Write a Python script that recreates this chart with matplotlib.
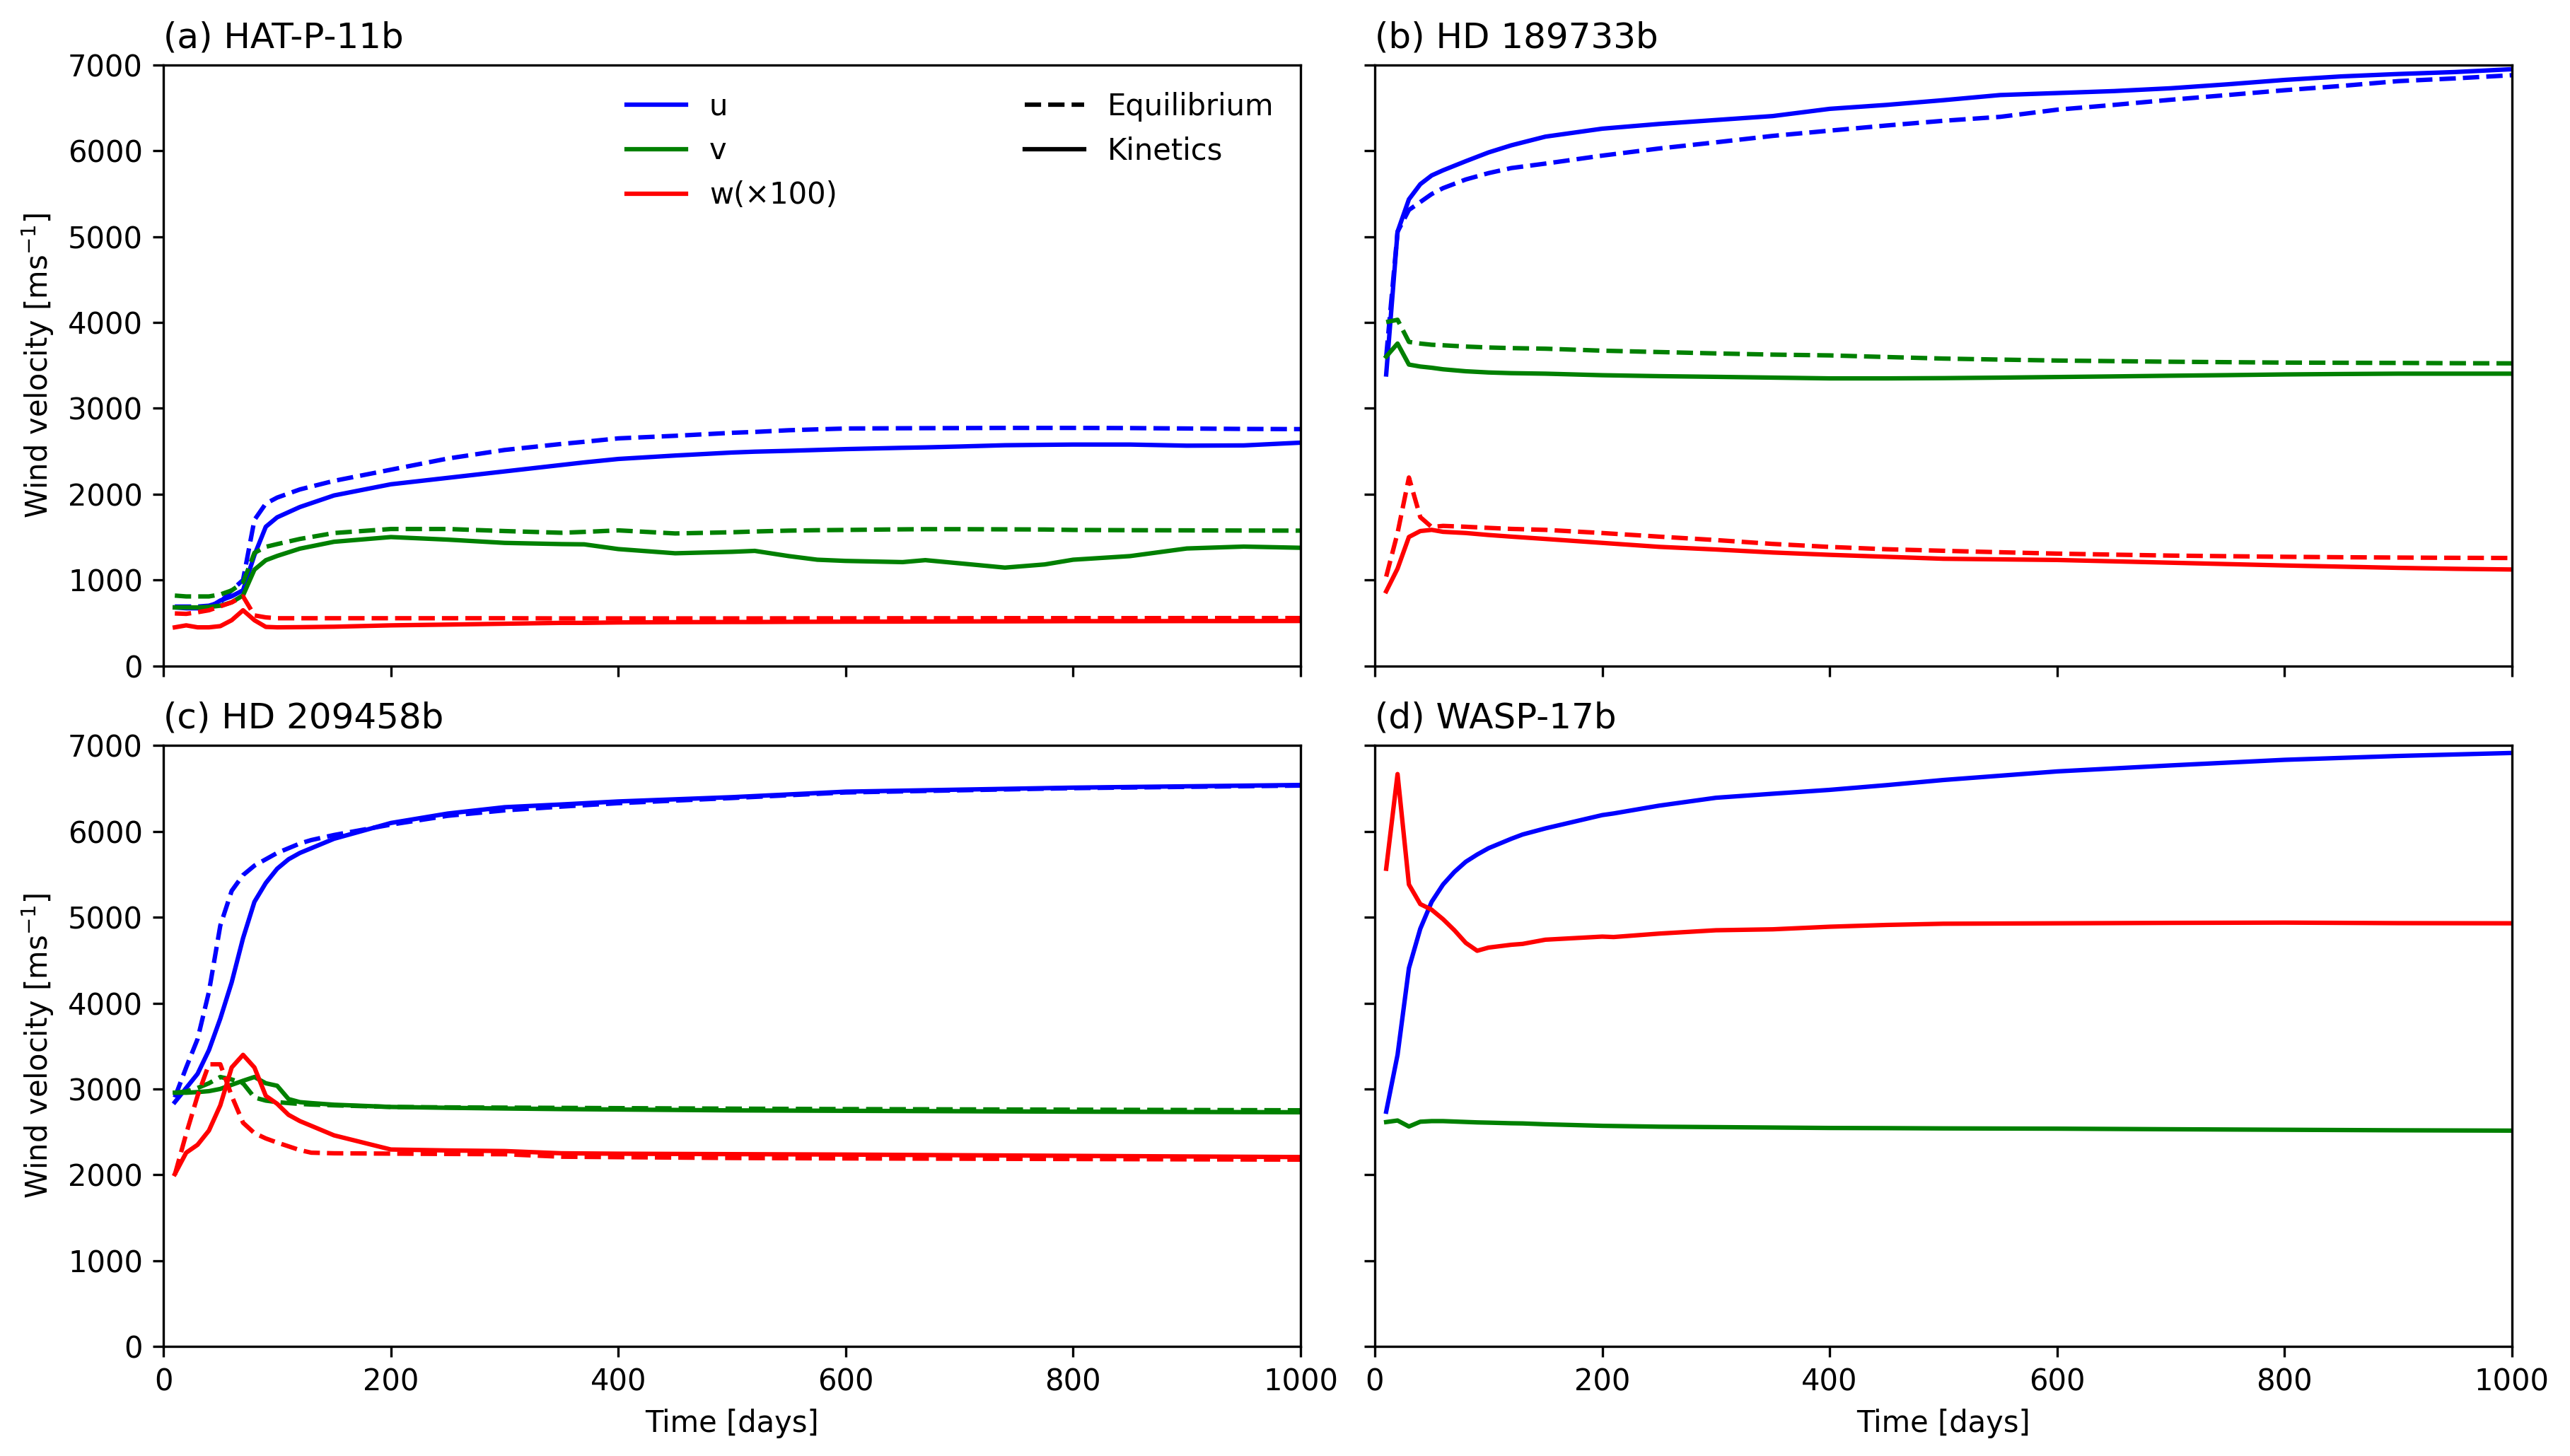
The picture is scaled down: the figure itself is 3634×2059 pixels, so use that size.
import matplotlib
matplotlib.use("Agg")
import matplotlib.pyplot as plt
from matplotlib.lines import Line2D

# ---------------- data ----------------
titles = ["(a) HAT-P-11b", "(b) HD 189733b", "(c) HD 209458b", "(d) WASP-17b"]

# (a) HAT-P-11b
t_a = [10, 20, 30, 40, 50, 60, 70, 80, 90, 100, 120, 150, 200, 250, 300, 350, 370, 400, 450,
       500, 520, 550, 575, 600, 650, 670, 700, 740, 775, 800, 850, 900, 950, 1000]
u_kin_a = [680, 670, 670, 680, 760, 810, 880, 1290, 1620, 1730, 1850, 1985, 2115, 2190, 2265, 2340,
           2370, 2410, 2450, 2485, 2495, 2505, 2515, 2525, 2540, 2545, 2555, 2570, 2575, 2578, 2578,
           2565, 2568, 2600]
u_eq_a = [690, 690, 690, 700, 740, 880, 1000, 1700, 1890, 1960, 2055, 2155, 2285, 2415, 2515, 2585,
          2610, 2650, 2680, 2715, 2725, 2745, 2755, 2765, 2768, 2769, 2770, 2772, 2772, 2772, 2770,
          2765, 2760, 2758]
v_kin_a = [680, 680, 680, 685, 700, 740, 820, 1120, 1230, 1280, 1365, 1445, 1500, 1470, 1432, 1418,
           1415, 1360, 1311, 1328, 1339, 1278, 1236, 1222, 1208, 1231, 1194, 1144, 1181, 1236, 1278,
           1367, 1389, 1375]
v_eq_a = [818, 808, 808, 808, 831, 878, 970, 1316, 1386, 1418, 1478, 1547, 1594, 1594, 1570, 1550,
          1560, 1578, 1542, 1556, 1565, 1575, 1580, 1583, 1590, 1592, 1592, 1590, 1588, 1583, 1580,
          1578, 1576, 1575]
w_kin_a = [448, 471, 448, 448, 462, 531, 647, 531, 453, 448, 450, 455, 471, 480, 490, 500, 500, 505,
           508, 510, 510, 512, 513, 514, 515, 516, 517, 518, 519, 520, 520, 521, 521, 522]
w_eq_a = [610, 605, 624, 647, 693, 739, 808, 587, 564, 554, 554, 554, 554, 554, 554, 552, 552, 552,
          552, 552, 552, 553, 553, 553, 554, 554, 554, 555, 555, 555, 555, 556, 556, 556]

# (b) HD 189733b
t_b = [10, 20, 30, 40, 50, 60, 80, 100, 120, 150, 200, 250, 300, 350, 400, 450, 500, 550, 600, 650,
       700, 750, 800, 850, 900, 950, 1000]
u_kin_b = [3395, 5058, 5436, 5612, 5714, 5774, 5880, 5982, 6065, 6166, 6259, 6314, 6360, 6406, 6490,
           6536, 6591, 6651, 6674, 6697, 6730, 6776, 6827, 6868, 6896, 6919, 6952]
u_eq_b = [3600, 5058, 5312, 5404, 5497, 5566, 5667, 5741, 5800, 5852, 5945, 6028, 6100, 6175, 6236,
          6296, 6351, 6397, 6480, 6536, 6596, 6651, 6707, 6757, 6813, 6845, 6882]
v_kin_b = [3603, 3755, 3510, 3487, 3473, 3455, 3432, 3418, 3410, 3404, 3386, 3375, 3367, 3358, 3349,
           3349, 3352, 3358, 3365, 3372, 3380, 3387, 3395, 3400, 3404, 3404, 3404]
v_eq_b = [4005, 4032, 3774, 3755, 3741, 3735, 3720, 3709, 3702, 3695, 3672, 3656, 3640, 3626, 3617,
          3598, 3580, 3568, 3557, 3550, 3543, 3538, 3533, 3531, 3529, 3526, 3524]
w_kin_b = [868, 1132, 1501, 1570, 1584, 1561, 1547, 1524, 1505, 1478, 1432, 1386, 1355, 1320, 1293,
           1270, 1247, 1240, 1233, 1217, 1201, 1185, 1169, 1155, 1141, 1130, 1122]
w_eq_b = [1039, 1547, 2194, 1732, 1617, 1630, 1620, 1607, 1595, 1584, 1547, 1505, 1465, 1420, 1385,
          1358, 1340, 1323, 1307, 1295, 1284, 1277, 1270, 1265, 1261, 1258, 1256]

# (c) HD 209458b
t_c = [10, 20, 30, 40, 50, 60, 70, 80, 90, 100, 110, 120, 130, 150, 200, 250, 300, 350, 400, 500,
       600, 800, 1000]
u_kin_c = [2846, 3011, 3176, 3452, 3820, 4242, 4757, 5180, 5400, 5566, 5676, 5750, 5805, 5915, 6099,
           6209, 6283, 6315, 6350, 6400, 6464, 6511, 6542]
u_eq_c = [2901, 3250, 3581, 4132, 4904, 5308, 5492, 5602, 5676, 5750, 5805, 5860, 5900, 5959, 6080,
          6183, 6246, 6290, 6330, 6390, 6455, 6505, 6535]
v_kin_c = [2956, 2956, 2963, 2974, 3000, 3048, 3095, 3139, 3066, 3037, 2882, 2846, 2835, 2816, 2790,
           2780, 2772, 2765, 2760, 2750, 2745, 2735, 2728]
v_eq_c = [2956, 2970, 3011, 3066, 3139, 3110, 3066, 2900, 2864, 2846, 2835, 2825, 2818, 2809, 2790,
          2785, 2782, 2779, 2776, 2770, 2765, 2758, 2751]
w_kin_c = [2007, 2257, 2349, 2515, 2809, 3250, 3397, 3250, 2919, 2827, 2698, 2625, 2570, 2459, 2294,
           2283, 2276, 2250, 2245, 2240, 2235, 2220, 2206]
w_eq_c = [2000, 2478, 2919, 3287, 3287, 2919, 2606, 2485, 2423, 2375, 2331, 2287, 2257, 2250, 2246,
          2242, 2239, 2210, 2205, 2195, 2190, 2183, 2176]

# (d) WASP-17b (kinetics only)
t_d = [10, 20, 30, 40, 50, 60, 70, 80, 90, 100, 120, 130, 150, 200, 210, 250, 300, 350, 400, 450,
       500, 600, 700, 800, 900, 1000]
u_kin_d = [2735, 3397, 4408, 4867, 5180, 5382, 5529, 5647, 5731, 5805, 5915, 5965, 6036, 6191, 6210,
           6301, 6393, 6440, 6485, 6540, 6600, 6700, 6770, 6835, 6880, 6915]
v_kin_d = [2614, 2632, 2562, 2618, 2625, 2625, 2620, 2615, 2610, 2607, 2600, 2598, 2588, 2570, 2568,
           2560, 2555, 2550, 2545, 2543, 2540, 2537, 2530, 2524, 2518, 2514]
w_kin_d = [5566, 6669, 5382, 5154, 5088, 4978, 4849, 4702, 4610, 4647, 4680, 4690, 4739, 4775, 4770,
           4810, 4849, 4860, 4890, 4911, 4925, 4930, 4935, 4938, 4932, 4930]

# ---------------- plot ----------------
plt.rcParams['font.family'] = ['DejaVu Sans']
fig, axes = plt.subplots(2, 2, sharex=True, sharey=True, figsize=(3634 / 300, 2059 / 300), dpi=300)
fig.subplots_adjust(left=0.0636, right=0.9774, top=0.9553, bottom=0.0753, wspace=0.0653, hspace=0.133)

lw = 1.5
panels = [
    (t_a, [(u_kin_a, u_eq_a, 'blue'), (v_kin_a, v_eq_a, 'green'), (w_kin_a, w_eq_a, 'red')]),
    (t_b, [(u_kin_b, u_eq_b, 'blue'), (v_kin_b, v_eq_b, 'green'), (w_kin_b, w_eq_b, 'red')]),
    (t_c, [(u_kin_c, u_eq_c, 'blue'), (v_kin_c, v_eq_c, 'green'), (w_kin_c, w_eq_c, 'red')]),
    (t_d, [(u_kin_d, None, 'blue'), (v_kin_d, None, 'green'), (w_kin_d, None, 'red')]),
]

for ax, title, (t, series) in zip(axes.flat, titles, panels):
    for kin, eq, col in series:
        if eq is not None:
            ax.plot(t, eq, color=col, lw=lw, ls='--')
        ax.plot(t, kin, color=col, lw=lw, ls='-')
    ax.set_title(title, loc='left', fontsize=12)
    ax.set_xlim(0, 1000)
    ax.set_ylim(0, 7000)
    ax.tick_params(labelsize=10)

for ax in axes[:, 0]:
    ax.set_ylabel('Wind velocity [ms$^{-1}$]', fontsize=10)
for ax in axes[1, :]:
    ax.set_xlabel('Time [days]', fontsize=10)

ax0 = axes[0, 0]
h1 = [Line2D([], [], color='blue', lw=lw), Line2D([], [], color='green', lw=lw),
      Line2D([], [], color='red', lw=lw)]
leg1 = ax0.legend(h1, ['u', 'v', 'w(×100)'], loc='upper center', frameon=False, fontsize=10)
ax0.add_artist(leg1)
h2 = [Line2D([], [], color='black', lw=lw, ls='--'), Line2D([], [], color='black', lw=lw)]
ax0.legend(h2, ['Equilibrium', 'Kinetics'], loc='upper right', frameon=False, fontsize=10)

fig.savefig('out.png', dpi=300)
